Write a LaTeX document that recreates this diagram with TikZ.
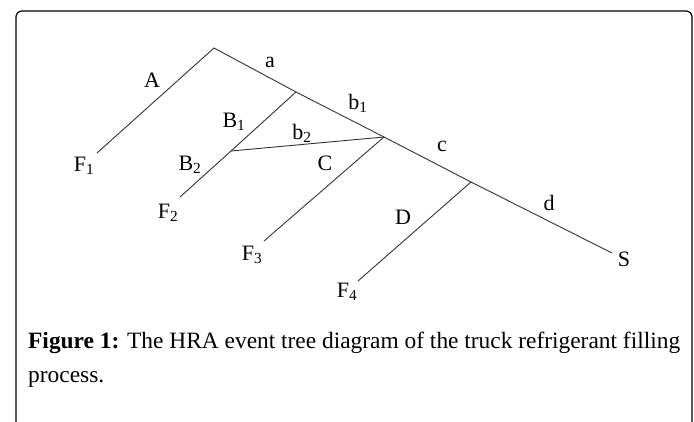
\documentclass[tikz,border=0pt]{standalone}
\usepackage{fontspec}
\setmainfont{Liberation Serif}
\begin{document}
\begin{tikzpicture}[x=1pt,y=1pt,
  branch/.style={draw=black!80, line width=0.9pt},
  lbl/.style={inner sep=0pt, font=\fontsize{22}{25}\selectfont},
  captext/.style={inner sep=0pt, anchor=base west, font=\fontsize{23.4}{28}\selectfont},
  frame/.style={draw=black, line width=1.2pt, rounded corners=6pt}]
\useasboundingbox (0,0) rectangle (694,421);
\clip (0,0) rectangle (694,421);
\draw[frame] (16,-20) rectangle (692,410);
% tree points
\coordinate (R)  at (214,373);
\coordinate (J1) at (296,329);
\coordinate (J2) at (384,284);
\coordinate (J3) at (471,239);
\coordinate (Send) at (612,168);
\coordinate (F1e) at (97,268);
\coordinate (JB) at (231,270);
\coordinate (F2e) at (180,224);
\coordinate (F3e) at (264,180);
\coordinate (F4e) at (358,140);
% branches
\draw[branch] (F1e) -- (R) -- (J1) -- (J2) -- (J3) -- (Send);
\draw[branch] (J1) -- (JB) -- (F2e);
\draw[branch] (JB) -- (J2);
\draw[branch] (J2) -- (F3e);
\draw[branch] (J3) -- (F4e);
% labels
\node[lbl] (lA)  at (152,341) {A};
\node[lbl] (la)  at (270,359) {a};
\node[lbl] (lB1) at (234,299) {B\textsubscript{1}};
\node[lbl] (lb2) at (302,288) {b\textsubscript{2}};
\node[lbl] (lb1) at (358,318) {b\textsubscript{1}};
\node[lbl] (lB2) at (190,256) {B\textsubscript{2}};
\node[lbl] (lF1) at (84,255) {F\textsubscript{1}};
\node[lbl] (lC)  at (325,258) {C};
\node[lbl] (lF2) at (168,208) {F\textsubscript{2}};
\node[lbl] (lF3) at (252,166) {F\textsubscript{3}};
\node[lbl] (lc)  at (442,275) {c};
\node[lbl] (ld)  at (549,218) {d};
\node[lbl] (lD)  at (403,204) {D};
\node[lbl] (lS)  at (624,162) {S};
\node[lbl] (lF4) at (347,129) {F\textsubscript{4}};
% caption
\node[captext] (cap1) at (28,73) {\textbf{Figure 1:} The HRA event tree diagram of the truck refrigerant filling};
\node[captext] (cap2) at (28,39) {process.};
\end{tikzpicture}
\end{document}
